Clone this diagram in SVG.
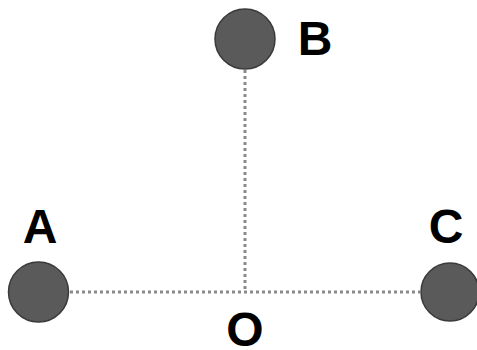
<svg xmlns="http://www.w3.org/2000/svg" width="477" height="350" viewBox="0 0 477 350">
<style>
.node{fill:#5a5a5a;stroke:#3a3a3a;stroke-width:1.5}
.lbl{font-family:"Liberation Sans",Arial,sans-serif;font-weight:bold;font-size:48px;fill:#000;text-anchor:middle}
.edge{stroke:#8a8a8a;stroke-width:3;stroke-dasharray:3 3;fill:none}
</style>
<rect width="477" height="350" fill="#fff"/>
<g id="connectors">
<line class="edge" x1="245" y1="70" x2="245" y2="292"/>
<line class="edge" x1="70" y1="292" x2="420" y2="292"/>
</g>
<g id="B"><circle class="node" cx="245" cy="39" r="30"/><text class="lbl" x="315" y="55">B</text></g>
<g id="A"><circle class="node" cx="38.5" cy="292" r="30"/><text class="lbl" x="40" y="243">A</text></g>
<g id="C"><circle class="node" cx="450" cy="292" r="29"/><text class="lbl" x="446" y="243">C</text></g>
<g id="O"><text class="lbl" x="245" y="346">O</text></g>
</svg>
